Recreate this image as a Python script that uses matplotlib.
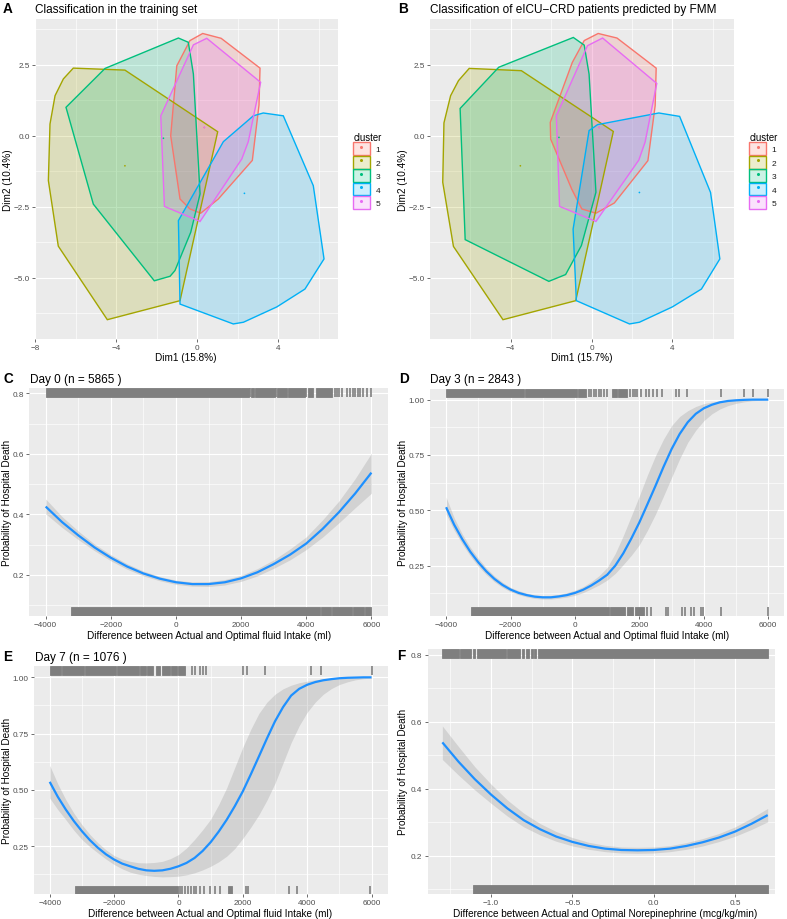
import matplotlib
matplotlib.use("Agg")
import matplotlib.pyplot as plt
import matplotlib.transforms as mtransforms
from matplotlib.patches import Patch
from matplotlib.lines import Line2D

plt.rcParams['font.family'] = ['Liberation Sans', 'DejaVu Sans']

# ---------------- data ----------------
clusters = ['1', '2', '3', '4', '5']
cluster_colors = ['#F8766D', '#A3A500', '#00BF7D', '#00B0F6', '#E76BF3']

# convex hulls, panel A (training set), (Dim1, Dim2)
hulls_train = [
    [(-0.35, 3.35), (0.28, 3.60), (1.19, 3.43), (3.11, 2.38), (3.06, 1.08), (2.73, -0.87),
     (1.05, -2.23), (0.18, -2.73), (-0.35, -2.58), (-0.84, -2.23), (-1.30, 0.0), (-1.0, 2.46)],
    [(-6.11, 2.38), (-3.56, 2.31), (1.02, 0.14), (-0.84, -5.81), (-4.43, -6.48), (-6.85, -3.89),
     (-7.34, -1.58), (-7.26, 0.41), (-7.01, 1.41), (-6.60, 2.0)],
    [(-0.92, 3.44), (-0.43, 3.29), (-0.18, 2.17), (0.15, -2.05), (-0.31, -3.40), (-1.09, -4.75),
     (-1.33, -4.95), (-2.11, -5.11), (-5.12, -2.41), (-6.47, 1.0), (-4.54, 2.37)],
    [(3.27, 0.80), (4.26, 0.70), (5.74, -1.76), (6.27, -4.34), (5.33, -5.40), (3.94, -6.03),
     (2.29, -6.57), (1.79, -6.63), (-0.84, -5.93), (-0.92, -2.99), (1.30, -0.21), (2.78, 0.70)],
    [(0.48, 3.43), (3.14, 1.88), (2.53, -0.21), (2.21, -0.82), (0.15, -3.02), (-1.61, -2.49),
     (-1.79, 0.70), (-0.18, 3.20)],
]
centers_train_x = [0.36, -3.56, -1.66, 2.34, 0.36]
centers_train_y = [0.29, -1.06, -0.09, -2.03, 0.29]

# convex hulls, panel B (eICU-CRD predicted by FMM)
hulls_eicu = [
    [(-0.36, 3.35), (0.33, 3.60), (1.26, 3.44), (3.20, 2.38), (3.15, 1.06), (2.79, -0.88),
     (1.13, -2.37), (0.22, -2.73), (-0.48, -2.58), (-0.98, -1.88), (-2.02, -0.12), (-2.04, 0.47),
     (-0.95, 2.58)],
    [(-6.05, 2.37), (-3.47, 2.29), (1.08, 0.15), (-0.78, -5.81), (-4.38, -6.48), (-6.83, -3.90),
     (-7.36, -1.64), (-7.30, 0.45), (-6.97, 1.41), (-6.58, 1.94)],
    [(-0.90, 3.46), (-0.36, 3.19), (-0.12, 2.17), (0.22, -1.99), (-0.50, -3.87), (-1.28, -4.89),
     (-2.11, -5.13), (-6.25, -3.66), (-6.50, 0.96), (-4.59, 2.41)],
    [(3.33, 0.80), (4.36, 0.68), (5.89, -2.0), (6.35, -4.34), (5.44, -5.40), (4.0, -6.03),
     (2.37, -6.57), (1.88, -6.63), (-0.75, -5.81), (-0.91, -3.29), (-0.12, 0.18), (0.30, 0.39)],
    [(0.55, 3.44), (3.23, 1.84), (2.65, -0.23), (2.34, -0.86), (0.22, -3.02), (-1.58, -2.49),
     (-1.74, 0.70), (-0.20, 3.17)],
]
centers_eicu_x = [0.38, -3.52, -1.61, 2.37, 0.38]
centers_eicu_y = [0.29, -1.06, -0.06, -2.0, 0.29]

# fluid difference (ml), day 0 curve read every 500 ml
fluid_x = [-4000, -3500, -3000, -2500, -2000, -1500, -1000, -500, 0, 500, 1000,
           1500, 2000, 2500, 3000, 3500, 4000, 4500, 5000, 5500, 6000]
day0_fit = [0.426, 0.375, 0.331, 0.291, 0.257, 0.228, 0.205, 0.188, 0.176, 0.170, 0.170,
            0.176, 0.189, 0.209, 0.236, 0.267, 0.304, 0.352, 0.407, 0.469, 0.538]
day0_lo = [0.402, 0.357, 0.317, 0.280, 0.247, 0.219, 0.197, 0.181, 0.169, 0.163, 0.162,
           0.167, 0.179, 0.197, 0.222, 0.250, 0.284, 0.325, 0.372, 0.422, 0.470]
day0_hi = [0.451, 0.393, 0.345, 0.302, 0.267, 0.237, 0.213, 0.195, 0.183, 0.177, 0.178,
           0.185, 0.199, 0.221, 0.250, 0.286, 0.326, 0.382, 0.444, 0.518, 0.602]

# day 3 and day 7 curves read every 250 ml (steeper shapes)
fluid_x_fine = [-4000, -3750, -3500, -3250, -3000, -2750, -2500, -2250, -2000, -1750,
                -1500, -1250, -1000, -750, -500, -250, 0, 250, 500, 750, 1000, 1250,
                1500, 1750, 2000, 2250, 2500, 2750, 3000, 3250, 3500, 3750, 4000, 4250,
                4500, 4750, 5000, 5250, 5500, 5750, 6000]
day3_fit = [0.514, 0.435, 0.370, 0.313, 0.265, 0.224, 0.190, 0.163, 0.142, 0.127,
            0.117, 0.110, 0.107, 0.107, 0.111, 0.117, 0.127, 0.141, 0.160, 0.183, 0.209, 0.250,
            0.306, 0.373, 0.446, 0.528, 0.611, 0.697, 0.777, 0.845, 0.898, 0.936, 0.961, 0.977,
            0.988, 0.994, 0.997, 0.999, 1.0, 1.0, 1.0]
day3_lo = [0.483, 0.410, 0.348, 0.294, 0.247, 0.209, 0.177, 0.152, 0.132, 0.119,
           0.109, 0.102, 0.099, 0.099, 0.103, 0.108, 0.116, 0.128, 0.145, 0.163, 0.185, 0.215,
           0.255, 0.297, 0.345, 0.410, 0.483, 0.565, 0.649, 0.733, 0.807, 0.862, 0.905, 0.936,
           0.958, 0.973, 0.983, 0.990, 0.995, 0.997, 0.999]
day3_hi = [0.559, 0.466, 0.393, 0.333, 0.283, 0.239, 0.203, 0.175, 0.152, 0.137,
           0.126, 0.118, 0.115, 0.116, 0.120, 0.128, 0.139, 0.155, 0.177, 0.205, 0.242, 0.305,
           0.386, 0.475, 0.566, 0.660, 0.747, 0.822, 0.883, 0.924, 0.950, 0.969, 0.982, 0.989,
           0.994, 0.997, 0.998, 0.999, 1.0, 1.0, 1.0]

day7_fit = [0.536, 0.470, 0.413, 0.362, 0.317, 0.277, 0.243, 0.214, 0.191, 0.173,
            0.161, 0.150, 0.143, 0.141, 0.143, 0.150, 0.161, 0.176, 0.198, 0.229, 0.268, 0.315,
            0.368, 0.428, 0.494, 0.570, 0.649, 0.729, 0.805, 0.868, 0.919, 0.949, 0.967, 0.979,
            0.987, 0.992, 0.996, 0.998, 0.999, 1.0, 1.0]
day7_lo = [0.464, 0.413, 0.368, 0.321, 0.280, 0.248, 0.220, 0.193, 0.169, 0.150,
           0.135, 0.126, 0.120, 0.116, 0.114, 0.115, 0.117, 0.123, 0.132, 0.145, 0.161, 0.181,
           0.206, 0.240, 0.285, 0.335, 0.390, 0.455, 0.530, 0.620, 0.710, 0.785, 0.845, 0.890,
           0.925, 0.950, 0.968, 0.980, 0.989, 0.994, 0.997]
day7_hi = [0.609, 0.527, 0.457, 0.397, 0.346, 0.302, 0.265, 0.234, 0.209, 0.193,
           0.183, 0.177, 0.176, 0.178, 0.183, 0.195, 0.213, 0.242, 0.280, 0.323, 0.370, 0.435,
           0.510, 0.600, 0.690, 0.770, 0.840, 0.890, 0.925, 0.949, 0.965, 0.976, 0.983, 0.989,
           0.993, 0.995, 0.997, 0.998, 0.999, 1.0, 1.0]

# norepinephrine difference (mcg/kg/min)
nor_x = [-1.3, -1.2, -1.1, -1.0, -0.9, -0.8, -0.7, -0.6, -0.5, -0.4, -0.3,
         -0.2, -0.1, 0.0, 0.1, 0.2, 0.3, 0.4, 0.5, 0.6, 0.7]
nor_fit = [0.538, 0.480, 0.428, 0.382, 0.341, 0.306, 0.279, 0.257, 0.241, 0.229, 0.221,
           0.217, 0.216, 0.217, 0.221, 0.229, 0.240, 0.254, 0.272, 0.295, 0.321]
nor_lo = [0.487, 0.440, 0.396, 0.356, 0.318, 0.286, 0.262, 0.243, 0.229, 0.219, 0.212,
          0.208, 0.207, 0.208, 0.212, 0.219, 0.229, 0.242, 0.258, 0.278, 0.301]
nor_hi = [0.587, 0.525, 0.465, 0.413, 0.366, 0.327, 0.296, 0.272, 0.254, 0.240, 0.231,
          0.226, 0.225, 0.226, 0.230, 0.239, 0.251, 0.266, 0.286, 0.312, 0.341]

# rugs: dense stretches as (start, end), isolated observations as single values
day0_top_bands = [(-4000, 2250), (2290, 2400), (2440, 3050), (3090, 3400), (3450, 3950),
                  (4060, 4220), (4300, 4780)]
day0_top_ticks = [2270, 3070, 4000, 4880, 4950, 5020, 5100, 5240, 5350, 5430, 5500,
                  5580, 5660, 5750, 5860, 6000]
day0_bot_bands = [(-3220, 4420), (4450, 4760), (4790, 5400), (5430, 5760), (5790, 6000)]
day0_bot_ticks = []

day3_top_bands = [(-4000, -1580), (-1540, 60), (80, 350), (1150, 1300), (1350, 1620)]
day3_top_ticks = [420, 500, 580, 660, 740, 820, 900, 990, 1700, 1790, 1860, 1910, 2060,
                  2190, 2300, 2430, 2550, 2690, 3120, 3230, 3490, 4520, 5250, 5540, 6000]
day3_bot_bands = [(-3220, 1050), (1100, 1550), (1600, 1800), (1850, 2140)]
day3_bot_ticks = [2240, 2350, 2810, 2890, 3330, 3430, 3590, 3690, 3900, 3960, 4520, 6000]

day7_top_bands = [(-4000, -3660), (-3620, -2930), (-2900, -1950), (-1910, -1220),
                  (-1190, -1010), (-980, -790), (-690, -560), (-500, -270), (-220, -60),
                  (-10, 200)]
day7_top_ticks = [410, 520, 660, 770, 850, 2010, 2130, 2680, 4110, 4420, 6000]
day7_bot_bands = [(-3220, 0), (1540, 1650)]
day7_bot_ticks = [40, 120, 200, 300, 400, 490, 560, 660, 800, 970, 1130, 1280,
                  2090, 2160, 3440, 3670, 5950]

nor_top_bands = [(-1.30, -1.20), (-1.19, -1.125), (-1.11, -1.10), (-1.09, -0.91),
                 (-0.905, -0.82), (-0.81, -0.795), (-0.785, -0.765), (-0.755, -0.745),
                 (-0.735, -0.725), (-0.715, 0.70)]
nor_top_ticks = []
nor_bot_bands = [(-1.11, 0.705)]
nor_bot_ticks = []

# ---------------- drawing ----------------
W, H = 787, 920
fig = plt.figure(figsize=(W / 100, H / 100), dpi=100)
BG = '#EBEBEB'
RUG = '#7F7F7F'
LINE = '#1E90FF'


def add_ax(l, t, r, b):
    return fig.add_axes([l / W, 1 - b / H, (r - l) / W, (b - t) / H])


def ftext(x, y, s, **kw):
    fig.text(x / W, 1 - y / H, s, **kw)


def style(ax, xlim, ylim, xt, xtl, xmin, yt, ytl, ymin):
    ax.set_facecolor(BG)
    ax.set_xlim(xlim)
    ax.set_ylim(ylim)
    ax.set_xticks(xt)
    ax.set_xticklabels(xtl)
    ax.set_xticks(xmin, minor=True)
    ax.set_yticks(yt)
    ax.set_yticklabels(ytl)
    ax.set_yticks(ymin, minor=True)
    ax.grid(which='major', color='white', lw=0.85)
    ax.grid(which='minor', color='white', lw=0.45)
    ax.set_axisbelow(True)
    for s in ax.spines.values():
        s.set_visible(False)
    ax.tick_params(which='major', length=2.2, width=0.5, color='#333333',
                   labelsize=5.9, labelcolor='#4D4D4D', pad=1.6)
    ax.tick_params(which='minor', length=0)


def hull_panel(ax, hulls, cx, cy, leg_anchor):
    handles = []
    for pts, c, lab in zip(hulls, cluster_colors, clusters):
        xs = [p[0] for p in pts]
        ys = [p[1] for p in pts]
        ax.fill(xs, ys, facecolor=c, alpha=0.2, edgecolor='none', zorder=2)
        ax.fill(xs, ys, facecolor='none', edgecolor=c, lw=1.0, zorder=3)
        handles.append((Patch(facecolor=matplotlib.colors.to_rgba(c, 0.2), edgecolor=c, lw=1.0),
                        Line2D([], [], marker='o', ms=1.2, color=c, ls='')))
    ax.scatter(cx, cy, s=1.5, c=cluster_colors, zorder=4, lw=0)
    leg = ax.legend(handles, clusters, title='cluster', loc='upper left',
                    bbox_to_anchor=leg_anchor, frameon=False, fontsize=6,
                    title_fontsize=6.9, handlelength=2.0, handleheight=1.95,
                    labelspacing=0.1, handletextpad=0.7, borderpad=0,
                    borderaxespad=0, alignment='left')
    for t in leg.get_texts():
        t.set_color('#1A1A1A')


def rug(ax, bands, ticks, top):
    tr = mtransforms.blended_transform_factory(ax.transData, ax.transAxes)
    y0, y1 = (0.963, 1.0) if top else (0.0, 0.037)
    for a, b in bands:
        ax.axvspan(a, b, ymin=y0, ymax=y1, color=RUG, lw=0.6, zorder=3)
    if ticks:
        ax.vlines(ticks, y0, y1, transform=tr, color=RUG, lw=1.2, zorder=3)


def fit_panel(ax, x, y, lo, hi, tb, tt, bb, bt):
    ax.fill_between(x, lo, hi, color='#999999', alpha=0.3, lw=0, zorder=2)
    ax.plot(x, y, color=LINE, lw=1.6, zorder=4, solid_capstyle='butt',
            solid_joinstyle='round')
    rug(ax, tb, tt, True)
    rug(ax, bb, bt, False)


# panel A
axA = add_ax(35, 20, 338, 340)
style(axA, (-8.0, 6.96), (-7.16, 4.11), [-8, -4, 0, 4], ['\u22128', '\u22124', '0', '4'],
      [-6, -2, 2, 6], [-5, -2.5, 0, 2.5], ['\u22125.0', '\u22122.5', '0.0', '2.5'],
      [-6.25, -3.75, -1.25, 1.25, 3.75])
hull_panel(axA, hulls_train, centers_train_x, centers_train_y, (1.05, 0.648))

# panel B
axB = add_ax(430, 20, 734, 340)
style(axB, (-7.99, 7.05), (-7.16, 4.11), [-4, 0, 4], ['\u22124', '0', '4'],
      [-6, -2, 2, 6], [-5, -2.5, 0, 2.5], ['\u22125.0', '\u22122.5', '0.0', '2.5'],
      [-6.25, -3.75, -1.25, 1.25, 3.75])
hull_panel(axB, hulls_eicu, centers_eicu_x, centers_eicu_y, (1.05, 0.648))

fluid_ticks = [-4000, -2000, 0, 2000, 4000, 6000]
fluid_labels = ['\u22124000', '\u22122000', '0', '2000', '4000', '6000']
fluid_minor = [-3000, -1000, 1000, 3000, 5000]
q_ticks = [0.25, 0.50, 0.75, 1.00]
q_labels = ['0.25', '0.50', '0.75', '1.00']
q_minor = [0.125, 0.375, 0.625, 0.875]
f_ticks = [0.2, 0.4, 0.6, 0.8]
f_labels = ['0.2', '0.4', '0.6', '0.8']
f_minor = [0.1, 0.3, 0.5, 0.7]

# panel C
axC = add_ax(29.4, 389.3, 387.7, 616.7)
style(axC, (-4500, 6500), (0.0656, 0.8165), fluid_ticks, fluid_labels, fluid_minor,
      f_ticks, f_labels, f_minor)
fit_panel(axC, fluid_x, day0_fit, day0_lo, day0_hi,
          day0_top_bands, day0_top_ticks, day0_bot_bands, day0_bot_ticks)

# panel D
axD = add_ax(430, 390, 784.4, 616.7)
style(axD, (-4500, 6500), (0.024, 1.048), fluid_ticks, fluid_labels, fluid_minor,
      q_ticks, q_labels, q_minor)
fit_panel(axD, fluid_x_fine, day3_fit, day3_lo, day3_hi,
          day3_top_bands, day3_top_ticks, day3_bot_bands, day3_bot_ticks)

# panel E
axE = add_ax(33.6, 667.3, 387.7, 895)
style(axE, (-4500, 6500), (0.038, 1.049), fluid_ticks, fluid_labels, fluid_minor,
      q_ticks, q_labels, q_minor)
fit_panel(axE, fluid_x_fine, day7_fit, day7_lo, day7_hi,
          day7_top_bands, day7_top_ticks, day7_bot_bands, day7_bot_ticks)

# panel F
axF = add_ax(427.7, 649.5, 775, 895)
style(axF, (-1.39, 0.745), (0.0857, 0.818), [-1.0, -0.5, 0.0, 0.5],
      ['\u22121.0', '\u22120.5', '0.0', '0.5'], [-1.25, -0.75, -0.25, 0.25],
      f_ticks, f_labels, f_minor)
fit_panel(axF, nor_x, nor_fit, nor_lo, nor_hi,
          nor_top_bands, nor_top_ticks, nor_bot_bands, nor_bot_ticks)

# ---------------- text ----------------
LET = dict(fontsize=9.8, fontweight='bold', va='baseline', ha='left', color='black')
TIT = dict(fontsize=8.5, va='baseline', ha='left', color='black')
XL = dict(fontsize=7.2, va='baseline', ha='center', color='black')
YL = dict(fontsize=7.2, va='center', ha='center', rotation=90, color='black')

ftext(3, 12.7, 'A', **LET)
ftext(35, 12.7, 'Classification in the training set', **TIT)
ftext(398, 12.7, 'B', **LET)
ftext(430.5, 12.7, 'Classification of eICU\u2212CRD patients predicted by FMM', **TIT)
ftext(186, 361.5, 'Dim1 (15.8%)', **XL)
ftext(582, 361.5, 'Dim1 (15.7%)', **XL)
ftext(8, 180, 'Dim2 (10.4%)', **YL)
ftext(403, 180, 'Dim2 (10.4%)', **YL)

ftext(3, 382.8, 'C', **LET)
ftext(30, 382.8, 'Day 0 (n = 5865 )', **TIT)
ftext(399, 382.8, 'D', **LET)
ftext(430.5, 382.8, 'Day 3 (n = 2843 )', **TIT)
ftext(3, 660.8, 'E', **LET)
ftext(35, 660.8, 'Day 7 (n = 1076 )', **TIT)
ftext(397, 660.3, 'F', **LET)

xlab = 'Difference between Actual and Optimal fluid Intake (ml)'
ylab = 'Probability of Hospital Death'
ftext(208.8, 638.7, xlab, **XL)
ftext(607.5, 638.7, xlab, **XL)
ftext(210.3, 917, xlab, **XL)
ftext(605, 917, 'Difference between Actual and Optimal Norepinephrine (mcg/kg/min)', **XL)
ftext(7, 503, ylab, **YL)
ftext(402.5, 503, ylab, **YL)
ftext(7, 781, ylab, **YL)
ftext(402.5, 772, ylab, **YL)

fig.savefig('out.png', dpi=100, facecolor='white')
